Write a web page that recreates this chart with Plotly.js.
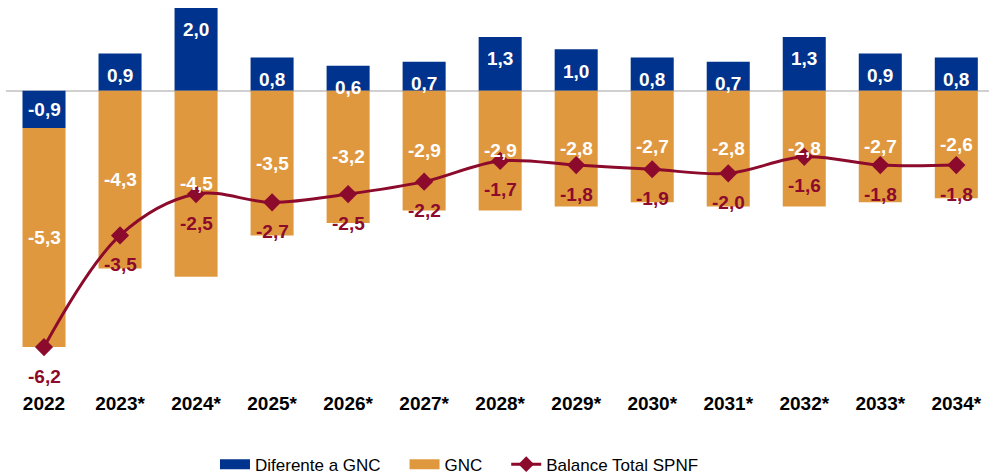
<!DOCTYPE html>
<html>
<head>
<meta charset="utf-8">
<script src="https://cdn.plot.ly/plotly-3.0.1.min.js"></script>
<style>html,body{margin:0;padding:0;background:#fff;}#chart{width:989px;height:476px;}</style>
</head>
<body>
<div id="chart"></div>
<script>
const years = ['2022','2023*','2024*','2025*','2026*','2027*','2028*','2029*','2030*','2031*','2032*','2033*','2034*'];
const diferente = [-0.9, 0.9, 2.0, 0.8, 0.6, 0.7, 1.3, 1.0, 0.8, 0.7, 1.3, 0.9, 0.8];
const gnc = [-5.3, -4.3, -4.5, -3.5, -3.2, -2.9, -2.9, -2.8, -2.7, -2.8, -2.8, -2.7, -2.6];
const balance = [-6.2, -3.5, -2.5, -2.7, -2.5, -2.2, -1.7, -1.8, -1.9, -2.0, -1.6, -1.8, -1.8];

const BLUE = '#00338D', ORANGE = '#E0983F', RED = '#8C0A2C';
const FAMILY = 'Liberation Sans, Arial, sans-serif';
const LABEL_FONT = {family: FAMILY, size: 19, color: '#ffffff', weight: 'bold'};
const fmt = v => v.toFixed(1).replace('.', ',');

const traces = [
  {type: 'bar', x: years, y: diferente, name: 'Diferente a GNC', marker: {color: BLUE}, showlegend: false, hoverinfo: 'skip'},
  {type: 'bar', x: years, y: gnc, name: 'GNC', marker: {color: ORANGE}, showlegend: false, hoverinfo: 'skip'},
  {type: 'scatter', mode: 'lines+markers', x: years, y: balance, name: 'Balance Total SPNF',
   line: {color: RED, width: 3, shape: 'spline', smoothing: 1},
   marker: {symbol: 'diamond', size: 14, color: RED}, showlegend: false, hoverinfo: 'skip'},
  // legend entries
  {type: 'scatter', mode: 'lines', x: [null], y: [null], name: 'Diferente a GNC\u00a0\u00a0\u00a0\u00a0', line: {color: BLUE, width: 10}},
  {type: 'scatter', mode: 'lines', x: [null], y: [null], name: 'GNC\u00a0\u00a0\u00a0\u00a0', line: {color: ORANGE, width: 10}},
  {type: 'scatter', mode: 'lines+markers', x: [null], y: [null], name: 'Balance Total SPNF',
   line: {color: RED, width: 3}, marker: {symbol: 'diamond', size: 12, color: RED}}
];

const annotations = [];
years.forEach((yr, i) => {
  const b = diferente[i];
  annotations.push({x: i, y: b > 0 ? b : b / 2, yshift: b > 0 ? -22 : 0, text: '<b>' + fmt(b) + '</b>',
    showarrow: false, font: LABEL_FONT, yanchor: 'middle'});
  const base = b < 0 ? b : 0;
  annotations.push({x: i, y: base + gnc[i] / 2, text: '<b>' + fmt(gnc[i]) + '</b>',
    showarrow: false, font: LABEL_FONT, yanchor: 'middle'});
  annotations.push({x: i, y: balance[i], yshift: -29, text: '<b>' + fmt(balance[i]) + '</b>',
    showarrow: false, font: Object.assign({}, LABEL_FONT, {color: RED}), yanchor: 'middle'});
});

const layout = {
  width: 989, height: 476,
  margin: {l: 6, r: 0, t: 0, b: 86},
  paper_bgcolor: '#ffffff', plot_bgcolor: '#ffffff',
  barmode: 'relative', bargap: 0.434,
  font: {family: FAMILY, color: '#000'},
  xaxis: {type: 'category', range: [-0.5, 12.43], showgrid: false, zeroline: false, showline: false, automargin: false,
          ticks: '', ticklabelstandoff: 0, tickfont: {size: 19, color: '#000', weight: 'bold'}},
  yaxis: {range: [-7.239, 2.193], showgrid: false, zeroline: true, zerolinecolor: '#D0D0D0', zerolinewidth: 2,
          showticklabels: false, ticks: '', automargin: false},
  legend: {orientation: 'h', x: 0.2126, xanchor: 'left', yref: 'container', y: 0.024, yanchor: 'middle',
           font: {size: 17, color: '#000'}, itemwidth: 30, traceorder: 'normal'},
  annotations: annotations,
  showlegend: true
};

Plotly.newPlot('chart', traces, layout, {staticPlot: true, displayModeBar: false});
</script>
</body>
</html>
